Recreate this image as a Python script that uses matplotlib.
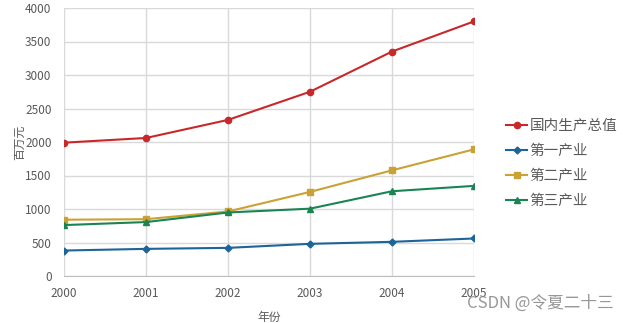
import matplotlib
matplotlib.use("Agg")
import matplotlib.pyplot as plt

plt.rcParams['font.family'] = ['Noto Sans CJK SC', 'DejaVu Sans']

years = [2000, 2001, 2002, 2003, 2004, 2005]
gdp = [1990, 2060, 2330, 2750, 3350, 3800]
primary = [380, 405, 420, 480, 510, 560]
secondary = [840, 848, 963, 1255, 1577, 1890]
tertiary = [760, 805, 948, 1005, 1265, 1345]

series_names = ['国内生产总值', '第一产业', '第二产业', '第三产业']
series_values = [gdp, primary, secondary, tertiary]
colors = ['#C8282A', '#1D6498', '#C9A135', '#1A8453']
markers = ['o', 'D', 's', '^']
msizes = [4.5, 3.5, 5, 5]

fig = plt.figure(figsize=(6.23, 3.23), dpi=100)
ax = fig.add_axes([64 / 623, 1 - 276 / 323, 410 / 623, 268 / 323])

for name, vals, c, m, ms in zip(series_names, series_values, colors, markers, msizes):
    ax.plot(years, vals, color=c, marker=m, markersize=ms, linewidth=1.5, label=name)

ax.set_xlim(2000, 2005)
ax.set_ylim(0, 4000)
ax.set_xticks(years)
ax.set_yticks(range(0, 4001, 500))
ax.grid(True, color='#D9D9D9', linewidth=1)
ax.set_axisbelow(True)
for s in ['top', 'right', 'left']:
    ax.spines[s].set_visible(False)
ax.spines['bottom'].set_color('#BFBFBF')
ax.tick_params(length=0, colors='#595959', labelsize=8.5)
ax.tick_params(axis='x', pad=8)
ax.tick_params(axis='y', pad=9)

ax.set_xlabel('年份', fontsize=8.5, color='#595959', labelpad=8)
ax.set_ylabel('百万元', fontsize=8.5, color='#595959', labelpad=-1)

ax.legend(loc='center left', bbox_to_anchor=(1.045, 0.42), frameon=False,
          fontsize=10.5, labelcolor='#595959', handlelength=1.5, handletextpad=0.15,
          labelspacing=0.75)

fig.text(0.985, 0.06, 'CSDN @令夏二十三', ha='right', va='center', fontsize=12,
         color='#8C8C8C', alpha=0.9)

fig.savefig('out.png', dpi=100)
